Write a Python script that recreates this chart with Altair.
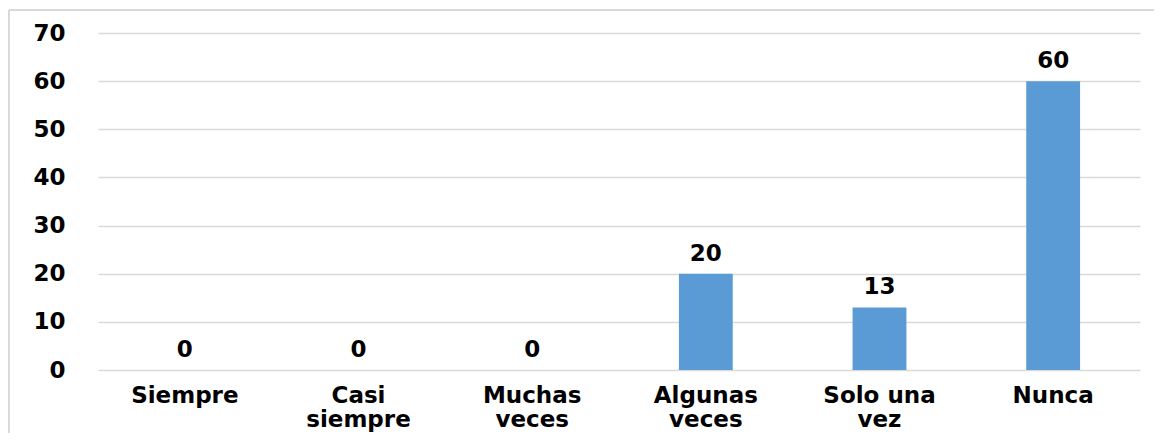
import altair as alt
import pandas as pd

categories = ["Siempre", "Casi\nsiempre", "Muchas\nveces", "Algunas\nveces", "Solo una\nvez", "Nunca"]
values = [0, 0, 0, 20, 13, 60]
y_ticks = [0, 10, 20, 30, 40, 50, 60, 70]

df = pd.DataFrame({"cat": categories, "val": values})

FONT = "DejaVu Sans"
W, H = 1042, 337
FS = 23

x = alt.X("cat:N", sort=categories, title=None,
          scale=alt.Scale(paddingInner=0.69, paddingOuter=0.345),
          axis=alt.Axis(labelExpr="split(datum.label, '\\n')", labelAngle=0,
                        labelFont=FONT, labelFontSize=FS, labelFontWeight="bold",
                        labelColor="#000000", labelLineHeight=24, labelPadding=14,
                        ticks=False, domain=False, grid=False))
y = alt.Y("val:Q", title=None,
          scale=alt.Scale(domain=[0, 70]),
          axis=alt.Axis(values=y_ticks, labelFont=FONT, labelFontSize=FS,
                        labelFontWeight="bold", labelColor="#000000",
                        labelPadding=33, ticks=False, domain=False,
                        gridColor="#d9d9d9", gridWidth=1.5))

base = alt.Chart(df)
bars = base.mark_bar(color="#5B9BD5").encode(x=x, y=y)
labels = base.mark_text(font=FONT, fontSize=FS, fontWeight="bold", color="#000000",
                        baseline="alphabetic", dy=-13).encode(
    x=alt.X("cat:N", sort=categories), y="val:Q", text="val:Q")

border_top = alt.Chart(df).mark_rule(color="#d9d9d9", strokeWidth=2, clip=False).encode(
    x=alt.value(-89), x2=alt.value(W + 40), y=alt.value(-23))
border_left = alt.Chart(df).mark_rule(color="#d9d9d9", strokeWidth=2, clip=False).encode(
    x=alt.value(-89), y=alt.value(-23), y2=alt.value(H + 120))

chart = alt.layer(border_top, border_left, bars, labels).properties(
    width=W, height=H,
    background="white",
    autosize=alt.AutoSizeParams(type="none"),
    padding={"left": 90, "top": 25, "right": 14, "bottom": 63},
).configure_view(strokeWidth=0, stroke="transparent")

chart.save("out.html", embed_options={"renderer": "svg", "actions": False})
